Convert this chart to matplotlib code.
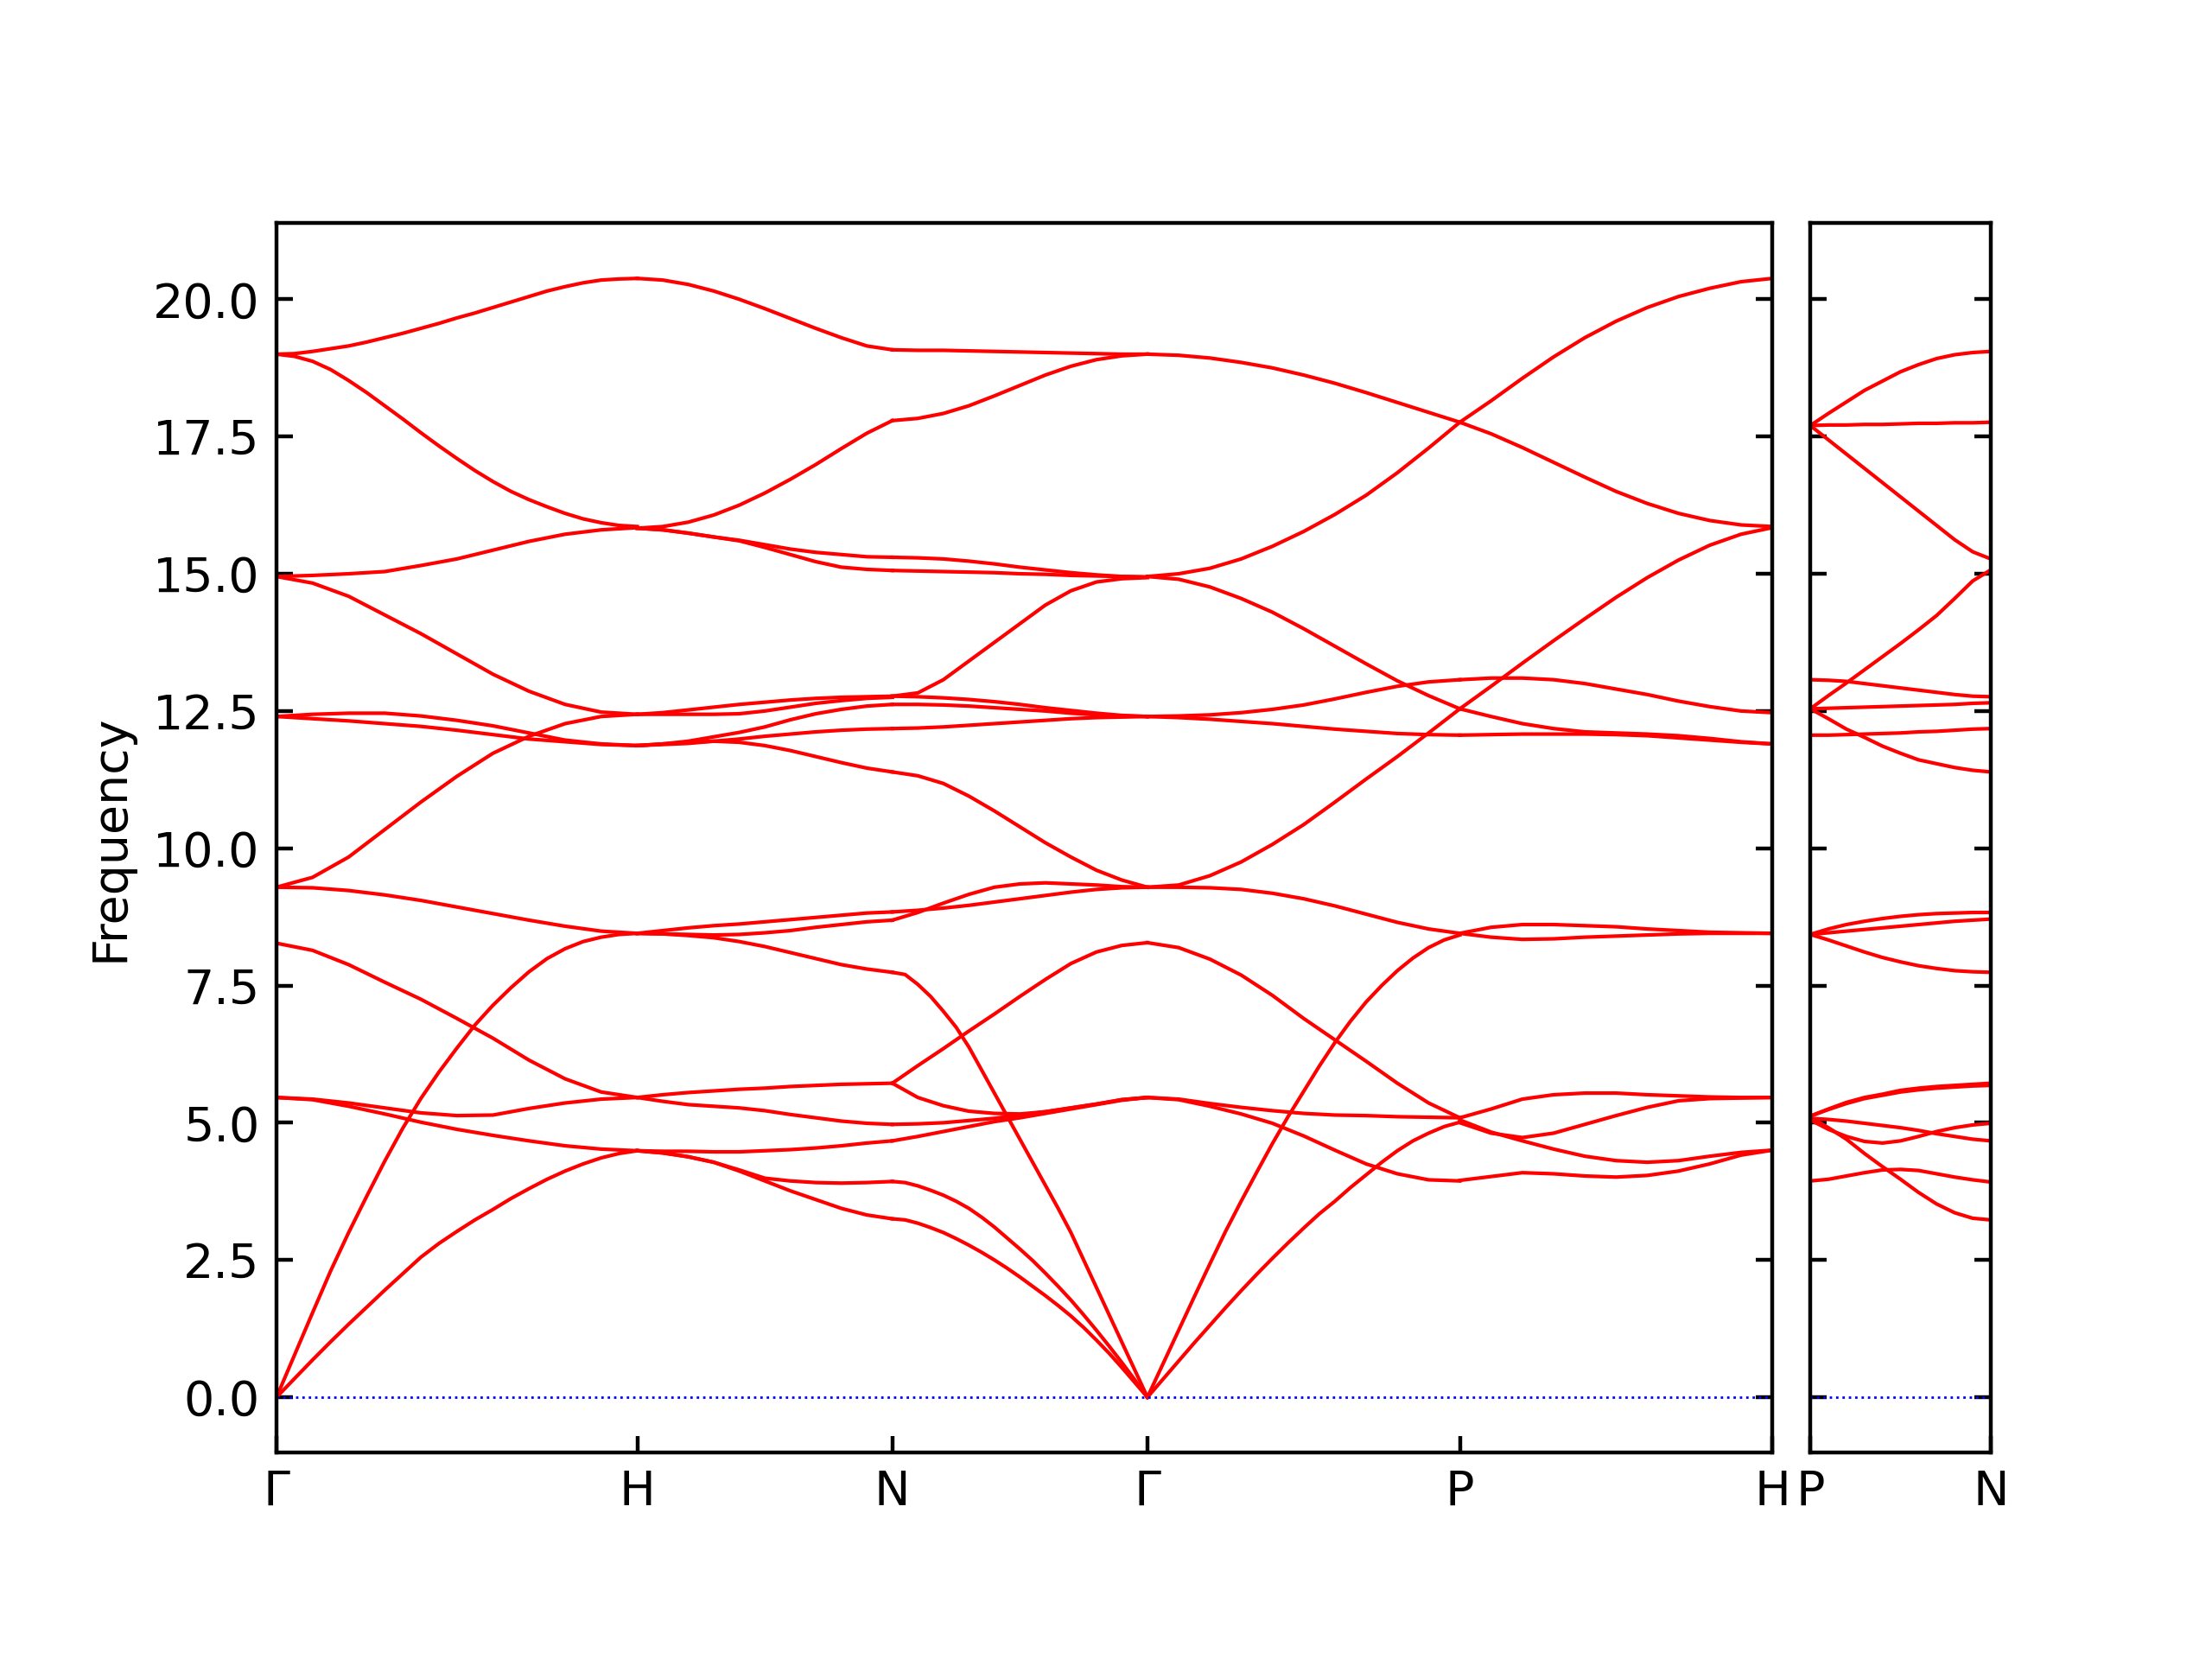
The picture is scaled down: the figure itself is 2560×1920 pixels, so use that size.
"""Phonon band structure along G-H-N-G-P-H | P-N (bcc path), red bands."""
import matplotlib
matplotlib.use("Agg")
import matplotlib.pyplot as plt
import numpy as np

# segment lengths along the path (2pi/a units)
SEG_MAIN = [1.0, 0.7071, 0.7071, 0.8660, 0.8660]
SEG_SIDE = [0.5]
LABELS_MAIN = ["Γ", "H", "N", "Γ", "P", "H"]
LABELS_SIDE = ["P", "N"]

# frequencies read at equally spaced q-points along each segment
# (11 points, or 21 for the strongly curved branches)
GAMMA_H = [
    [19.0, 19.01, 19.05, 19.1, 19.15, 19.22, 19.3, 19.38, 19.47, 19.56, 19.66,
     19.75, 19.85, 19.95, 20.05, 20.15, 20.23, 20.3, 20.35, 20.37, 20.38],
    [19.0, 18.96, 18.87, 18.72, 18.52, 18.3, 18.06, 17.82, 17.57, 17.33, 17.1,
     16.88, 16.68, 16.5, 16.35, 16.22, 16.1, 16.0, 15.93, 15.88, 15.86],
    [14.95, 14.97, 15.0, 15.04, 15.15, 15.27, 15.43, 15.59, 15.72, 15.8, 15.84],
    [14.95, 14.83, 14.59, 14.25, 13.91, 13.54, 13.17, 12.86, 12.62, 12.48, 12.44],
    [12.4, 12.44, 12.46, 12.46, 12.41, 12.33, 12.23, 12.1, 11.97, 11.9, 11.87],
    [12.4, 12.36, 12.32, 12.27, 12.22, 12.15, 12.07, 11.99, 11.94, 11.89, 11.87],
    [9.29, 9.47, 9.84, 10.34, 10.84, 11.31, 11.73, 12.04, 12.27, 12.4, 12.44],
    [9.29, 9.28, 9.23, 9.15, 9.05, 8.93, 8.81, 8.69, 8.58, 8.49, 8.45],
    [8.27, 8.14, 7.88, 7.56, 7.25, 6.9, 6.54, 6.14, 5.8, 5.56, 5.46],
    [0.0, 0.77, 1.54, 2.3, 3.0, 3.66, 4.3, 4.9, 5.44, 5.92, 6.36,
     6.78, 7.14, 7.46, 7.75, 7.99, 8.17, 8.3, 8.38, 8.43, 8.45],
    [0.0, 0.34, 0.68, 1.01, 1.33, 1.64, 1.95, 2.25, 2.55, 2.8, 3.02,
     3.23, 3.42, 3.62, 3.8, 3.97, 4.12, 4.25, 4.36, 4.44, 4.49],
    [5.46, 5.43, 5.36, 5.27, 5.18, 5.13, 5.14, 5.26, 5.36, 5.43, 5.46],
    [5.46, 5.42, 5.3, 5.16, 5.01, 4.88, 4.77, 4.67, 4.58, 4.52, 4.49],
]
H_N = [
    [20.38, 20.35, 20.27, 20.15, 20.0, 19.83, 19.65, 19.47, 19.3, 19.15, 19.08],
    [15.83, 15.86, 15.94, 16.07, 16.25, 16.47, 16.72, 16.99, 17.28, 17.56, 17.79],
    [15.83, 15.8, 15.74, 15.67, 15.61, 15.53, 15.45, 15.39, 15.35, 15.31, 15.3],
    [15.83, 15.8, 15.74, 15.67, 15.6, 15.48, 15.35, 15.22, 15.12, 15.08, 15.06],
    [12.44, 12.47, 12.52, 12.57, 12.62, 12.66, 12.7, 12.73, 12.75, 12.76, 12.77],
    [12.44, 12.44, 12.44, 12.44, 12.45, 12.5, 12.57, 12.64, 12.69, 12.73, 12.75],
    [11.87, 11.9, 11.95, 12.03, 12.11, 12.21, 12.34, 12.45, 12.53, 12.59, 12.62],
    [11.87, 11.89, 11.91, 11.95, 11.99, 12.04, 12.08, 12.12, 12.15, 12.17, 12.18],
    [11.87, 11.9, 11.93, 11.95, 11.93, 11.87, 11.78, 11.67, 11.56, 11.46, 11.39],
    [8.45, 8.5, 8.55, 8.59, 8.62, 8.66, 8.7, 8.74, 8.78, 8.82, 8.84],
    [8.45, 8.44, 8.43, 8.42, 8.43, 8.46, 8.5, 8.56, 8.61, 8.66, 8.69],
    [8.45, 8.44, 8.41, 8.37, 8.3, 8.21, 8.1, 7.99, 7.88, 7.8, 7.74],
    [5.46, 5.51, 5.55, 5.58, 5.61, 5.63, 5.66, 5.68, 5.7, 5.71, 5.72],
    [5.46, 5.39, 5.33, 5.3, 5.27, 5.22, 5.15, 5.09, 5.03, 4.99, 4.97],
    [4.49, 4.48, 4.48, 4.47, 4.47, 4.49, 4.51, 4.54, 4.58, 4.63, 4.67],
    [4.49, 4.45, 4.38, 4.28, 4.14, 3.99, 3.94, 3.91, 3.9, 3.91, 3.93],
    [4.49, 4.45, 4.38, 4.28, 4.12, 3.94, 3.76, 3.6, 3.44, 3.32, 3.25],
]
N_GAMMA = [
    [19.08, 19.07, 19.07, 19.06, 19.05, 19.04, 19.03, 19.02, 19.01, 19.0, 19.0],
    [17.79, 17.83, 17.92, 18.06, 18.24, 18.43, 18.62, 18.78, 18.9, 18.97, 19.0],
    [15.3, 15.29, 15.27, 15.23, 15.18, 15.12, 15.07, 15.02, 14.98, 14.95, 14.94],
    [15.06, 15.05, 15.04, 15.03, 15.02, 15.0, 14.99, 14.97, 14.96, 14.95, 14.94],
    [12.77, 12.83, 13.07, 13.41, 13.75, 14.09, 14.43, 14.69, 14.85, 14.91, 14.93],
    [12.77, 12.76, 12.74, 12.71, 12.67, 12.62, 12.56, 12.51, 12.46, 12.42, 12.4],
    [12.62, 12.62, 12.61, 12.59, 12.56, 12.53, 12.5, 12.46, 12.43, 12.41, 12.4],
    [12.18, 12.19, 12.21, 12.24, 12.27, 12.3, 12.33, 12.36, 12.38, 12.39, 12.4],
    [11.39, 11.32, 11.18, 10.95, 10.68, 10.39, 10.1, 9.84, 9.6, 9.42, 9.29],
    [8.84, 8.87, 8.91, 8.96, 9.02, 9.08, 9.14, 9.2, 9.25, 9.28, 9.29],
    [8.69, 8.83, 9.0, 9.16, 9.29, 9.35, 9.37, 9.35, 9.33, 9.3, 9.29],
    [7.74, 7.7, 7.52, 7.3, 7.03, 6.74, 6.38, 5.96, 5.54, 5.12, 4.7,
     4.28, 3.86, 3.44, 3.0, 2.5, 2.0, 1.5, 1.0, 0.5, 0.0],
    [5.72, 6.04, 6.35, 6.67, 6.98, 7.3, 7.61, 7.9, 8.11, 8.23, 8.28],
    [5.72, 5.46, 5.31, 5.21, 5.17, 5.16, 5.2, 5.27, 5.34, 5.42, 5.46],
    [4.97, 4.98, 5.0, 5.04, 5.08, 5.14, 5.2, 5.27, 5.34, 5.42, 5.46],
    [4.67, 4.75, 4.84, 4.93, 5.02, 5.09, 5.17, 5.25, 5.33, 5.41, 5.46],
    [3.93, 3.91, 3.85, 3.77, 3.68, 3.57, 3.44, 3.28, 3.1, 2.9, 2.7,
     2.49, 2.26, 2.02, 1.77, 1.5, 1.22, 0.93, 0.63, 0.32, 0.0],
    [3.25, 3.23, 3.17, 3.09, 3.0, 2.89, 2.77, 2.64, 2.5, 2.35, 2.19,
     2.02, 1.85, 1.67, 1.48, 1.27, 1.04, 0.8, 0.54, 0.27, 0.0],
]
GAMMA_P = [
    [19.0, 18.98, 18.93, 18.85, 18.75, 18.62, 18.47, 18.3, 18.12, 17.94, 17.76],
    [14.95, 15.0, 15.1, 15.27, 15.5, 15.77, 16.08, 16.43, 16.84, 17.29, 17.76],
    [14.95, 14.9, 14.76, 14.55, 14.3, 14.0, 13.68, 13.36, 13.05, 12.78, 12.54],
    [12.4, 12.41, 12.43, 12.47, 12.53, 12.61, 12.72, 12.84, 12.95, 13.03, 13.07],
    [12.4, 12.38, 12.35, 12.31, 12.27, 12.22, 12.17, 12.13, 12.09, 12.07, 12.06],
    [9.29, 9.33, 9.5, 9.75, 10.07, 10.43, 10.84, 11.26, 11.67, 12.1, 12.54],
    [9.29, 9.29, 9.28, 9.25, 9.18, 9.08, 8.95, 8.8, 8.65, 8.53, 8.45],
    [8.28, 8.19, 7.98, 7.69, 7.32, 6.9, 6.51, 6.12, 5.72, 5.36, 5.09],
    [0.0, 0.61, 1.22, 1.83, 2.43, 3.02, 3.57, 4.1, 4.62, 5.11, 5.57,
     6.03, 6.46, 6.85, 7.2, 7.5, 7.77, 8.0, 8.19, 8.33, 8.42],
    [0.0, 0.33, 0.66, 0.99, 1.31, 1.63, 1.94, 2.24, 2.53, 2.81, 3.08,
     3.34, 3.57, 3.82, 4.05, 4.28, 4.49, 4.67, 4.81, 4.93, 5.01],
    [5.46, 5.43, 5.35, 5.28, 5.22, 5.17, 5.14, 5.13, 5.11, 5.1, 5.09],
    [5.46, 5.42, 5.3, 5.16, 4.99, 4.76, 4.5, 4.25, 4.07, 3.96, 3.94],
]
P_H = [
    [17.76, 18.15, 18.56, 18.95, 19.3, 19.6, 19.85, 20.05, 20.2, 20.32, 20.38],
    [17.76, 17.55, 17.3, 17.03, 16.76, 16.5, 16.28, 16.1, 15.97, 15.89, 15.86],
    [12.54, 12.95, 13.37, 13.78, 14.18, 14.57, 14.93, 15.25, 15.52, 15.72, 15.84],
    [13.07, 13.1, 13.1, 13.07, 13.0, 12.9, 12.8, 12.68, 12.58, 12.5, 12.47],
    [12.54, 12.4, 12.27, 12.18, 12.12, 12.1, 12.08, 12.05, 12.0, 11.94, 11.9],
    [12.06, 12.07, 12.08, 12.08, 12.08, 12.07, 12.05, 12.01, 11.97, 11.93, 11.9],
    [8.45, 8.56, 8.61, 8.61, 8.59, 8.57, 8.53, 8.5, 8.47, 8.46, 8.45],
    [8.45, 8.38, 8.34, 8.35, 8.38, 8.4, 8.42, 8.44, 8.45, 8.45, 8.45],
    [5.09, 5.25, 5.43, 5.51, 5.54, 5.54, 5.51, 5.49, 5.47, 5.46, 5.46],
    [5.0, 4.81, 4.73, 4.81, 4.97, 5.13, 5.28, 5.4, 5.44, 5.45, 5.46],
    [5.05, 4.83, 4.67, 4.52, 4.39, 4.31, 4.28, 4.31, 4.39, 4.46, 4.5],
    [3.95, 4.02, 4.09, 4.07, 4.03, 4.01, 4.04, 4.12, 4.25, 4.41, 4.5],
]
P_N = [
    [17.7, 17.92, 18.13, 18.34, 18.51, 18.68, 18.81, 18.92, 18.99, 19.03, 19.05],
    [17.7, 17.71, 17.71, 17.72, 17.72, 17.73, 17.74, 17.74, 17.75, 17.75, 17.76],
    [17.7, 17.44, 17.18, 16.92, 16.66, 16.4, 16.14, 15.88, 15.62, 15.4, 15.27],
    [12.54, 12.78, 13.01, 13.25, 13.49, 13.73, 13.98, 14.24, 14.55, 14.87, 15.07],
    [13.07, 13.06, 13.04, 13.0, 12.96, 12.92, 12.88, 12.84, 12.8, 12.77, 12.76],
    [12.54, 12.55, 12.56, 12.57, 12.58, 12.59, 12.6, 12.61, 12.62, 12.64, 12.65],
    [12.54, 12.36, 12.17, 12.02, 11.86, 11.73, 11.61, 11.54, 11.47, 11.42, 11.39],
    [12.06, 12.06, 12.07, 12.08, 12.09, 12.1, 12.12, 12.13, 12.15, 12.17, 12.18],
    [8.43, 8.53, 8.61, 8.67, 8.72, 8.76, 8.79, 8.81, 8.82, 8.83, 8.83],
    [8.43, 8.46, 8.49, 8.52, 8.55, 8.58, 8.61, 8.64, 8.67, 8.69, 8.71],
    [8.43, 8.33, 8.22, 8.11, 8.01, 7.93, 7.86, 7.81, 7.77, 7.75, 7.74],
    [5.12, 5.25, 5.37, 5.46, 5.52, 5.59, 5.63, 5.66, 5.68, 5.7, 5.72],
    [5.12, 5.24, 5.35, 5.44, 5.5, 5.56, 5.6, 5.63, 5.65, 5.67, 5.68],
    [5.05, 4.88, 4.75, 4.66, 4.63, 4.67, 4.75, 4.84, 4.91, 4.96, 4.99],
    [5.08, 5.06, 5.03, 4.99, 4.95, 4.91, 4.86, 4.8, 4.75, 4.7, 4.67],
    [5.1, 4.91, 4.7, 4.44, 4.2, 3.97, 3.73, 3.52, 3.36, 3.26, 3.23],
    [3.94, 3.97, 4.03, 4.09, 4.14, 4.15, 4.13, 4.07, 4.01, 3.96, 3.92],
]

YLIM = (-1.0, 21.39)


def draw(ax, seg_lens, segments, labels):
    starts = np.concatenate([[0.0], np.cumsum(seg_lens)])
    for x0, length, bands in zip(starts[:-1], seg_lens, segments):
        for freqs in bands:
            t = np.linspace(0.0, 1.0, len(freqs))
            ax.plot(x0 + t * length, freqs, color="r", lw=0.75)
    ax.axhline(0, ls=":", lw=0.5, color="b")
    ax.set_xlim(starts[0], starts[-1])
    ax.set_ylim(*YLIM)
    ax.set_xticks(starts)
    ax.set_xticklabels(labels)
    ax.set_yticks(np.arange(0, 20.01, 2.5))
    ax.tick_params(direction="in", right=True, top=False)


fig = plt.figure(figsize=(6.4, 4.8), dpi=400)
ax1 = fig.add_axes([0.125, 0.1247, 0.6762, 0.7409])
ax2 = fig.add_axes([0.8184, 0.1247, 0.0816, 0.7409])

draw(ax1, SEG_MAIN, [GAMMA_H, H_N, N_GAMMA, GAMMA_P, P_H], LABELS_MAIN)
draw(ax2, SEG_SIDE, [P_N], LABELS_SIDE)
ax1.set_ylabel("Frequency")
ax2.tick_params(labelleft=False)

fig.savefig("out.png", dpi=400)
